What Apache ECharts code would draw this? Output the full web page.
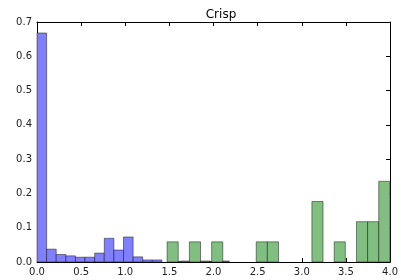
<!DOCTYPE html>
<html>
<head>
<meta charset="utf-8">
<script src="https://cdn.jsdelivr.net/npm/echarts@6/dist/echarts.min.js"></script>
<style>
  html, body { margin: 0; padding: 0; background: #fff; }
  #chart { width: 401px; height: 280px; }
</style>
</head>
<body>
<div id="chart"></div>
<script>
// histogram data, weights sum to 1 per series
const blueStart = 0
const blueWidth = 0.1089
const blueValues = [0.668, 0.0375, 0.022, 0.018, 0.014, 0.014, 0.026, 0.069, 0.035, 0.073,
  0.015, 0.006, 0.006, 0, 0.002, 0.003, 0.003, 0.003, 0.002, 0.003]

const greenStart = 1.474
const greenWidth = 0.1262
const greenValues = [0.0588, 0, 0.0588, 0, 0.0588, 0, 0, 0, 0.0588, 0.0588,
  0, 0, 0, 0.1765, 0, 0.0588, 0, 0.1176, 0.1176, 0.2353]

const xTicks = [0, 0.5, 1.0, 1.5, 2.0, 2.5, 3.0, 3.5, 4.0]
const yTicks = [0, 0.1, 0.2, 0.3, 0.4, 0.5, 0.6, 0.7]

const toBins = (start, width, values) =>
  values.map((v, i) => [start + width * i, start + width * (i + 1), v]).filter(d => d[2] > 0)

const chart = echarts.init(document.getElementById('chart'), null, { renderer: 'canvas' })

function barRenderer(fill, stroke) {
  return function (params, api) {
    const p0 = api.coord([api.value(0), api.value(2)])
    const p1 = api.coord([api.value(1), 0])
    return {
      type: 'rect',
      shape: { x: p0[0], y: p0[1], width: p1[0] - p0[0], height: p1[1] - p0[1] },
      style: { fill: fill, stroke: stroke, lineWidth: 1 }
    }
  }
}

const axisCommon = {
  axisLine: { show: true, onZero: false, lineStyle: { color: '#000', width: 1 } },
  axisTick: { show: true, inside: true, length: 4, lineStyle: { color: '#000' } },
  splitLine: { show: false }
}

chart.setOption({
  animation: false,
  title: {
    text: 'Crisp',
    left: 216,
    top: 4,
    textAlign: 'center',
    textStyle: { fontFamily: 'DejaVu Sans', fontSize: 12, fontWeight: 'normal', color: '#000' }
  },
  grid: { left: 37, right: 5, top: 22, bottom: 18 },
  xAxis: [{
    type: 'value', min: xTicks[0], max: xTicks[xTicks.length - 1], interval: 0.5,
    position: 'bottom',
    ...axisCommon,
    axisLabel: {
      margin: 5, fontFamily: 'DejaVu Sans', fontSize: 10, color: '#222',
      formatter: v => v.toFixed(1)
    }
  }, {
    type: 'value', min: xTicks[0], max: xTicks[xTicks.length - 1], interval: 0.5,
    position: 'top',
    ...axisCommon,
    axisLabel: { show: false }
  }],
  yAxis: [{
    type: 'value', min: yTicks[0], max: yTicks[yTicks.length - 1], interval: 0.1,
    position: 'left',
    ...axisCommon,
    axisLabel: {
      margin: 5, fontFamily: 'DejaVu Sans', fontSize: 10, color: '#222',
      formatter: v => v.toFixed(1)
    }
  }, {
    type: 'value', min: yTicks[0], max: yTicks[yTicks.length - 1], interval: 0.1,
    position: 'right',
    ...axisCommon,
    axisLabel: { show: false }
  }],
  series: [{
    name: 'blue',
    type: 'custom',
    xAxisIndex: 0,
    yAxisIndex: 0,
    renderItem: barRenderer('#8080ff', 'rgba(0,0,0,0.45)'),
    encode: { x: [0, 1], y: 2 },
    data: toBins(blueStart, blueWidth, blueValues)
  }, {
    name: 'green',
    type: 'custom',
    xAxisIndex: 0,
    yAxisIndex: 0,
    renderItem: barRenderer('#80bf80', 'rgba(0,0,0,0.45)'),
    encode: { x: [0, 1], y: 2 },
    data: toBins(greenStart, greenWidth, greenValues)
  }]
})
</script>
</body>
</html>
